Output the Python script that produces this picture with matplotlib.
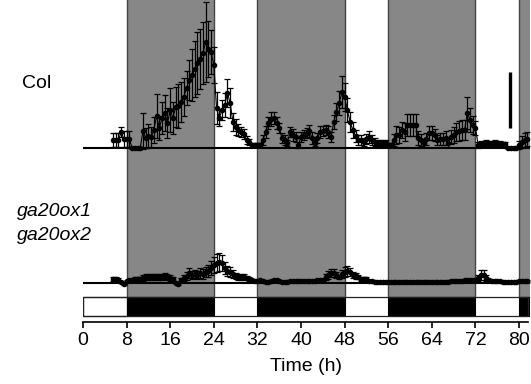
import numpy as np
import matplotlib
matplotlib.use("Agg")
import matplotlib.pyplot as plt
from matplotlib.patches import Rectangle

plt.rcParams['font.family'] = ['Liberation Sans', 'DejaVu Sans']

# ---------------- data ----------------
time_h = np.arange(5.5, 82.0, 0.5)

col_vals = [
    0.8, 0.8, 0.8, 1.6, 0.9,
    0.9, 0.9, 0.0, 0.0, 0.0, 0.0, 1.7, 1.0, 1.2, 1.1, 1.8, 3.2, 2.0, 3.0, 3.5, 2.5,
    3.8, 3.0, 4.1, 4.2, 4.6, 5.1, 6.0, 6.8, 7.3, 7.9, 8.5, 8.9, 9.5, 10.6, 9.9, 9.6,
    8.3, 4.0, 3.0, 3.8, 4.3, 5.5, 4.5, 2.6, 2.1, 1.8, 1.6, 1.4, 0.8, 0.6, 0.3, 0.3,
    0.3, 0.3, 0.8, 1.6, 2.5, 2.9, 3.0, 2.5, 2.0, 1.0, 0.8, 0.5, 1.6, 1.3, 1.1, 0.3,
    1.1, 1.3, 1.5, 1.7, 1.0, 0.5, 1.0, 1.6, 1.7, 1.8, 1.6, 1.1, 2.6, 3.6, 4.5, 5.6,
    5.1, 3.8, 2.6, 1.8, 1.2, 0.8, 0.8, 0.6, 0.9, 1.1, 0.8, 0.6, 0.5, 0.5, 0.5, 0.5,
    0.3, 0.3, 0.8, 1.3, 1.3, 1.8, 1.6, 2.3, 2.3, 2.3, 2.3, 1.0, 0.8, 0.5, 0.9, 1.5,
    1.5, 1.3, 0.8, 0.9, 0.9, 1.0, 0.5, 1.1, 1.3, 1.6, 1.7, 1.8, 1.8, 3.5, 2.8, 2.3,
    2.0, 0.3, 0.4, 0.4, 0.5, 0.4, 0.4, 0.5, 0.4, 0.4, 0.4, 0.4, 0.0, 0.0, 0.0, 0.0,
    0.3, 0.6, 0.8, 0.9,
]
col_err = [
    0.7, 0.7, 0.7, 0.5, 0.8,
    0.8, 0.8, 0.1, 0.1, 0.1, 0.1, 1.8, 1.0, 1.2, 1.0, 1.3, 2.2, 1.2, 1.6, 1.8, 1.5,
    2.2, 1.6, 2.0, 2.2, 2.0, 1.9, 1.7, 2.0, 2.6, 2.8, 3.1, 3.0, 3.1, 4.0, 2.8, 2.2,
    1.8, 1.6, 0.8, 1.0, 1.2, 1.4, 1.5, 0.9, 0.8, 0.6, 0.5, 0.5, 0.4, 0.3, 0.2, 0.2,
    0.2, 0.2, 0.5, 0.6, 0.6, 0.7, 0.6, 0.6, 0.5, 0.5, 0.5, 0.3, 0.5, 0.6, 0.5, 0.3,
    0.5, 0.5, 0.5, 0.6, 0.6, 0.3, 0.5, 0.6, 0.5, 0.5, 0.6, 0.5, 0.7, 0.9, 1.2, 1.6,
    1.4, 1.2, 1.0, 0.8, 0.6, 0.5, 0.5, 0.4, 0.5, 0.6, 0.5, 0.4, 0.3, 0.3, 0.3, 0.3,
    0.2, 0.2, 0.6, 0.9, 0.8, 0.8, 0.9, 1.1, 1.1, 1.1, 1.1, 0.7, 0.6, 0.4, 0.6, 0.7,
    0.7, 0.6, 0.5, 0.6, 0.6, 0.7, 0.4, 0.7, 0.8, 0.9, 1.0, 1.0, 1.0, 1.6, 1.2, 0.9,
    0.7, 0.3, 0.3, 0.3, 0.3, 0.3, 0.3, 0.3, 0.3, 0.3, 0.2, 0.2, 0.1, 0.1, 0.1, 0.1,
    0.4, 0.6, 0.7, 0.7,
]
ga_vals = [
    0.4, 0.4, 0.3, 0.1, -0.1,
    0.2, 0.3, 0.3, 0.4, 0.4, 0.4, 0.5, 0.6, 0.6, 0.6, 0.6, 0.6, 0.6, 0.6, 0.7, 0.6,
    0.5, 0.4, 0.0, -0.1, 0.3, 0.5, 0.7, 1.0, 0.8, 0.9, 0.8, 1.0, 0.9, 1.1, 1.2, 1.5,
    1.8, 2.0, 2.1, 2.0, 1.5, 1.2, 1.1, 0.9, 0.7, 0.6, 0.6, 0.6, 0.5, 0.4, 0.3, 0.2,
    0.2, 0.3, 0.2, 0.1, 0.1, 0.2, 0.3, 0.3, 0.2, 0.1, 0.1, 0.1, 0.2, 0.2, 0.2, 0.2,
    0.2, 0.2, 0.2, 0.2, 0.2, 0.2, 0.3, 0.3, 0.3, 0.6, 0.8, 1.0, 1.0, 0.8, 0.6, 0.9,
    1.1, 1.2, 1.1, 0.8, 0.7, 0.6, 0.4, 0.4, 0.4, 0.2, 0.2, 0.1, 0.1, 0.1, 0.1, 0.1,
    0.1, 0.1, 0.1, 0.1, 0.1, 0.1, 0.1, 0.1, 0.1, 0.1, 0.1, 0.1, 0.1, 0.1, 0.1, 0.1,
    0.1, 0.1, 0.1, 0.1, 0.1, 0.1, 0.1, 0.2, 0.2, 0.2, 0.2, 0.2, 0.3, 0.3, 0.3, 0.3,
    0.3, 0.5, 0.8, 0.8, 0.5, 0.3, 0.2, 0.2, 0.2, 0.2, 0.1, 0.1, 0.1, 0.1, 0.1, 0.1,
    0.2, 0.2, 0.2, 0.2,
]
ga_err = [
    0.2, 0.2, 0.2, 0.1, 0.1,
    0.1, 0.1, 0.1, 0.2, 0.2, 0.2, 0.3, 0.3, 0.3, 0.3, 0.3, 0.3, 0.3, 0.3, 0.3, 0.3,
    0.3, 0.2, 0.1, 0.1, 0.2, 0.3, 0.4, 0.5, 0.4, 0.4, 0.4, 0.5, 0.5, 0.5, 0.6, 0.7,
    0.8, 0.9, 0.9, 0.8, 0.6, 0.5, 0.5, 0.4, 0.3, 0.3, 0.3, 0.3, 0.2, 0.2, 0.1, 0.1,
    0.1, 0.1, 0.1, 0.1, 0.1, 0.1, 0.1, 0.1, 0.1, 0.1, 0.1, 0.1, 0.1, 0.1, 0.1, 0.1,
    0.1, 0.1, 0.1, 0.1, 0.1, 0.1, 0.1, 0.1, 0.1, 0.3, 0.4, 0.4, 0.4, 0.3, 0.2, 0.4,
    0.5, 0.5, 0.4, 0.3, 0.3, 0.2, 0.2, 0.2, 0.2, 0.1, 0.1, 0.1, 0.1, 0.1, 0.1, 0.1,
    0.1, 0.1, 0.1, 0.1, 0.1, 0.1, 0.1, 0.1, 0.1, 0.1, 0.1, 0.1, 0.1, 0.1, 0.1, 0.1,
    0.1, 0.1, 0.1, 0.1, 0.1, 0.1, 0.1, 0.1, 0.1, 0.1, 0.1, 0.1, 0.1, 0.1, 0.1, 0.1,
    0.1, 0.3, 0.5, 0.5, 0.3, 0.1, 0.1, 0.1, 0.1, 0.1, 0.1, 0.1, 0.1, 0.1, 0.1, 0.1,
    0.1, 0.1, 0.1, 0.1,
]

dark_periods = [(8, 24), (32, 48), (56, 72), (80, 88)]
xticks = [0, 8, 16, 24, 32, 40, 48, 56, 64, 72, 80]
scale_bar = (2.0, 7.6)      # length of scale bar (data units above Col baseline)

# ---------------- layout ----------------
XMAX = 82.0
COL_BASE = 17.4
GA_BASE = 3.9
BAR_LO, BAR_HI = 0.6, 2.5
YTOP = 32.2
GRAY = '#878787'
FS = 14

fig = plt.figure(figsize=(5.31, 3.84), dpi=100)
ax = fig.add_axes([83 / 531, 62 / 384, 447 / 531, 322 / 384])
ax.set_xlim(0, XMAX)
ax.set_ylim(0, YTOP)

# night shading
for s, e in dark_periods:
    ax.add_patch(Rectangle((s, BAR_HI), e - s, YTOP - BAR_HI + 1,
                           facecolor=GRAY, edgecolor='#444444', lw=1.0, zorder=0))
    ax.add_patch(Rectangle((s, BAR_LO), e - s, BAR_HI - BAR_LO,
                           facecolor='black', edgecolor='black', lw=0.8, zorder=3))
ax.add_patch(Rectangle((0, BAR_LO), XMAX - 0.3, BAR_HI - BAR_LO,
                       facecolor='none', edgecolor='#222222', lw=0.9, zorder=4))
ax.add_patch(Rectangle((0, BAR_LO), 8, BAR_HI - BAR_LO,
                       facecolor='white', edgecolor='#222222', lw=0.9, zorder=2))

# baselines
ax.plot([0, XMAX], [COL_BASE, COL_BASE], color='black', lw=1.5, zorder=2)
ax.plot([0, XMAX], [GA_BASE, GA_BASE], color='black', lw=1.5, zorder=2)

# traces
col = np.array(col_vals)
ga = np.array(ga_vals)
ax.errorbar(time_h, col + COL_BASE, yerr=col_err, fmt='-o', color='black',
            ms=3.0, lw=0.8, elinewidth=0.9, capsize=2.2, capthick=0.9, zorder=5)
ax.errorbar(time_h, ga + GA_BASE, yerr=ga_err, fmt='-o', color='black',
            ms=3.0, lw=0.8, elinewidth=0.9, capsize=2.2, capthick=0.9, zorder=5)

# scale bar
ax.plot([78.3, 78.3], [COL_BASE + scale_bar[0], COL_BASE + scale_bar[1]],
        color='black', lw=2.4, solid_capstyle='butt', zorder=6)

# axes styling
for sp in ['left', 'right', 'top']:
    ax.spines[sp].set_visible(False)
ax.spines['bottom'].set_linewidth(1.2)
ax.spines['bottom'].set_bounds(0, 81.6)
ax.set_yticks([])
ax.set_xticks(xticks)
ax.tick_params(axis='x', direction='out', length=4, width=1.2, labelsize=FS, pad=3)
ax.set_xlabel('Time (h)', fontsize=FS, labelpad=7)

fig.text(37 / 531, 1 - 84 / 384, 'Col', fontsize=FS, ha='center', va='center')
fig.text(17 / 531, 1 - 212 / 384, 'ga20ox1', fontsize=FS, ha='left', va='center', style='italic')
fig.text(17 / 531, 1 - 236 / 384, 'ga20ox2', fontsize=FS, ha='left', va='center', style='italic')

fig.savefig('out.png', dpi=100)
